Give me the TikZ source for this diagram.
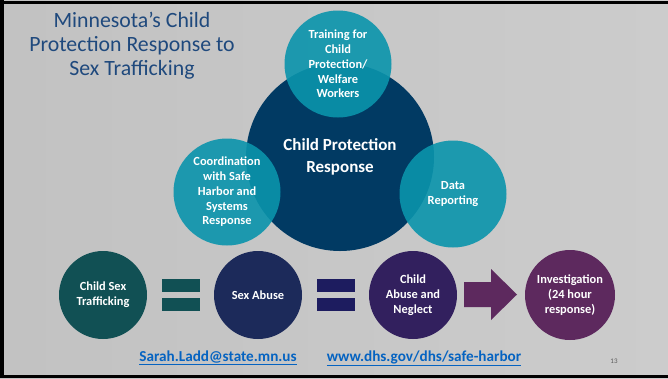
\documentclass[tikz,border=0pt]{standalone}
\usepackage{fontspec}
\setmainfont{Carlito}
\usepackage{tikz}
\usetikzlibrary{positioning}
\definecolor{cpnavy}{RGB}{1,58,99}
\definecolor{cpteal}{RGB}{10,148,172}
\definecolor{cpgreen}{RGB}{17,80,84}
\definecolor{cpblue}{RGB}{28,42,90}
\definecolor{cpindigo}{RGB}{29,28,95}
\definecolor{cppurple}{RGB}{50,32,94}
\definecolor{cpplum}{RGB}{93,41,94}
\definecolor{cptitle}{RGB}{31,73,125}
\definecolor{cplink}{RGB}{5,99,193}
\newcommand{\cpsmall}{\fontsize{12.4}{14.8}\selectfont\bfseries}

\begin{document}
\begin{tikzpicture}
				[x=1pt, y=-1pt,
				core/.style={circle, fill=cpnavy, text=white, align=center, inner sep=0pt,
					minimum size=188pt, font=\fontsize{17}{22}\selectfont\bfseries},
				part/.style={circle, fill=cpteal, fill opacity=0.9, text opacity=1, text=white,
					align=center, inner sep=0pt, minimum size=107pt, font=\cpsmall},
				step circle/.style={circle, text=white, align=center, inner sep=0pt,
					minimum size=88pt, font=\cpsmall},
				bar/.style={rectangle, inner sep=0pt, minimum width=38pt, minimum height=12.5pt},
				link/.style={text=cplink, font=\fontsize{15.2}{18}\selectfont\bfseries}]
				\useasboundingbox (0,0) rectangle (668,378);
				\shade[left color=black!24, middle color=black!3, right color=black!20]
					(0,0) rectangle (668,378);
				\fill[black] (0,0.8) rectangle (668,4);
				\fill[black] (0,0) rectangle (4,378);
				\fill[black] (0,375) rectangle (668,378);
				\node[text=cptitle, align=center, font=\fontsize{21.8}{24}\selectfont] (title)
					at (132,46) {Minnesota’s Child\\Protection Response to\\Sex Trafficking};
				\node[core] (cpr) at (340,157) {Child Protection\\Response};
				\node[part] (train) at (338,64) {Training for\\Child\\Protection/\\Welfare\\Workers};
				\node[part] (coord) at (227,192) {Coordination\\with Safe\\Harbor and\\Systems\\Response};
				\node[part] (data) at (453,194) {Data\\Reporting};
				\node[step circle, fill=cpgreen] (cst) at (103,295) {Child Sex\\Trafficking};
				\node[step circle, fill=cpblue] (sab) at (258,295) {Sex Abuse};
				\node[step circle, fill=cppurple] (can) at (413,295) {Child\\Abuse and\\Neglect};
				\node[step circle, fill=cpplum, minimum size=90pt] (inv) at (570,295)
					{Investigation\\(24 hour\\response)};
				\node[bar, fill=cpgreen] (eqa) at (181,285.5) {};
				\node[bar, fill=cpgreen, below=6pt of eqa] (eqb) {};
				\node[bar, fill=cpindigo] (eqc) at (336,285.5) {};
				\node[bar, fill=cpindigo, below=6pt of eqc] (eqd) {};
				\fill[cpplum] (464,282) -- (491,282) -- (491,269) -- (517,294.5)
					-- (491,320) -- (491,307) -- (464,307) -- cycle;
				\node[link] (mail) at (218,358) {\underline{Sarah.Ladd@state.mn.us}};
				\node[link] (web) at (424,358) {\underline{www.dhs.gov/dhs/safe-harbor}};
				\node[text=black!65, font=\fontsize{7}{8}\selectfont] (page) at (614,361) {13};
				\end{tikzpicture}
\end{document}
